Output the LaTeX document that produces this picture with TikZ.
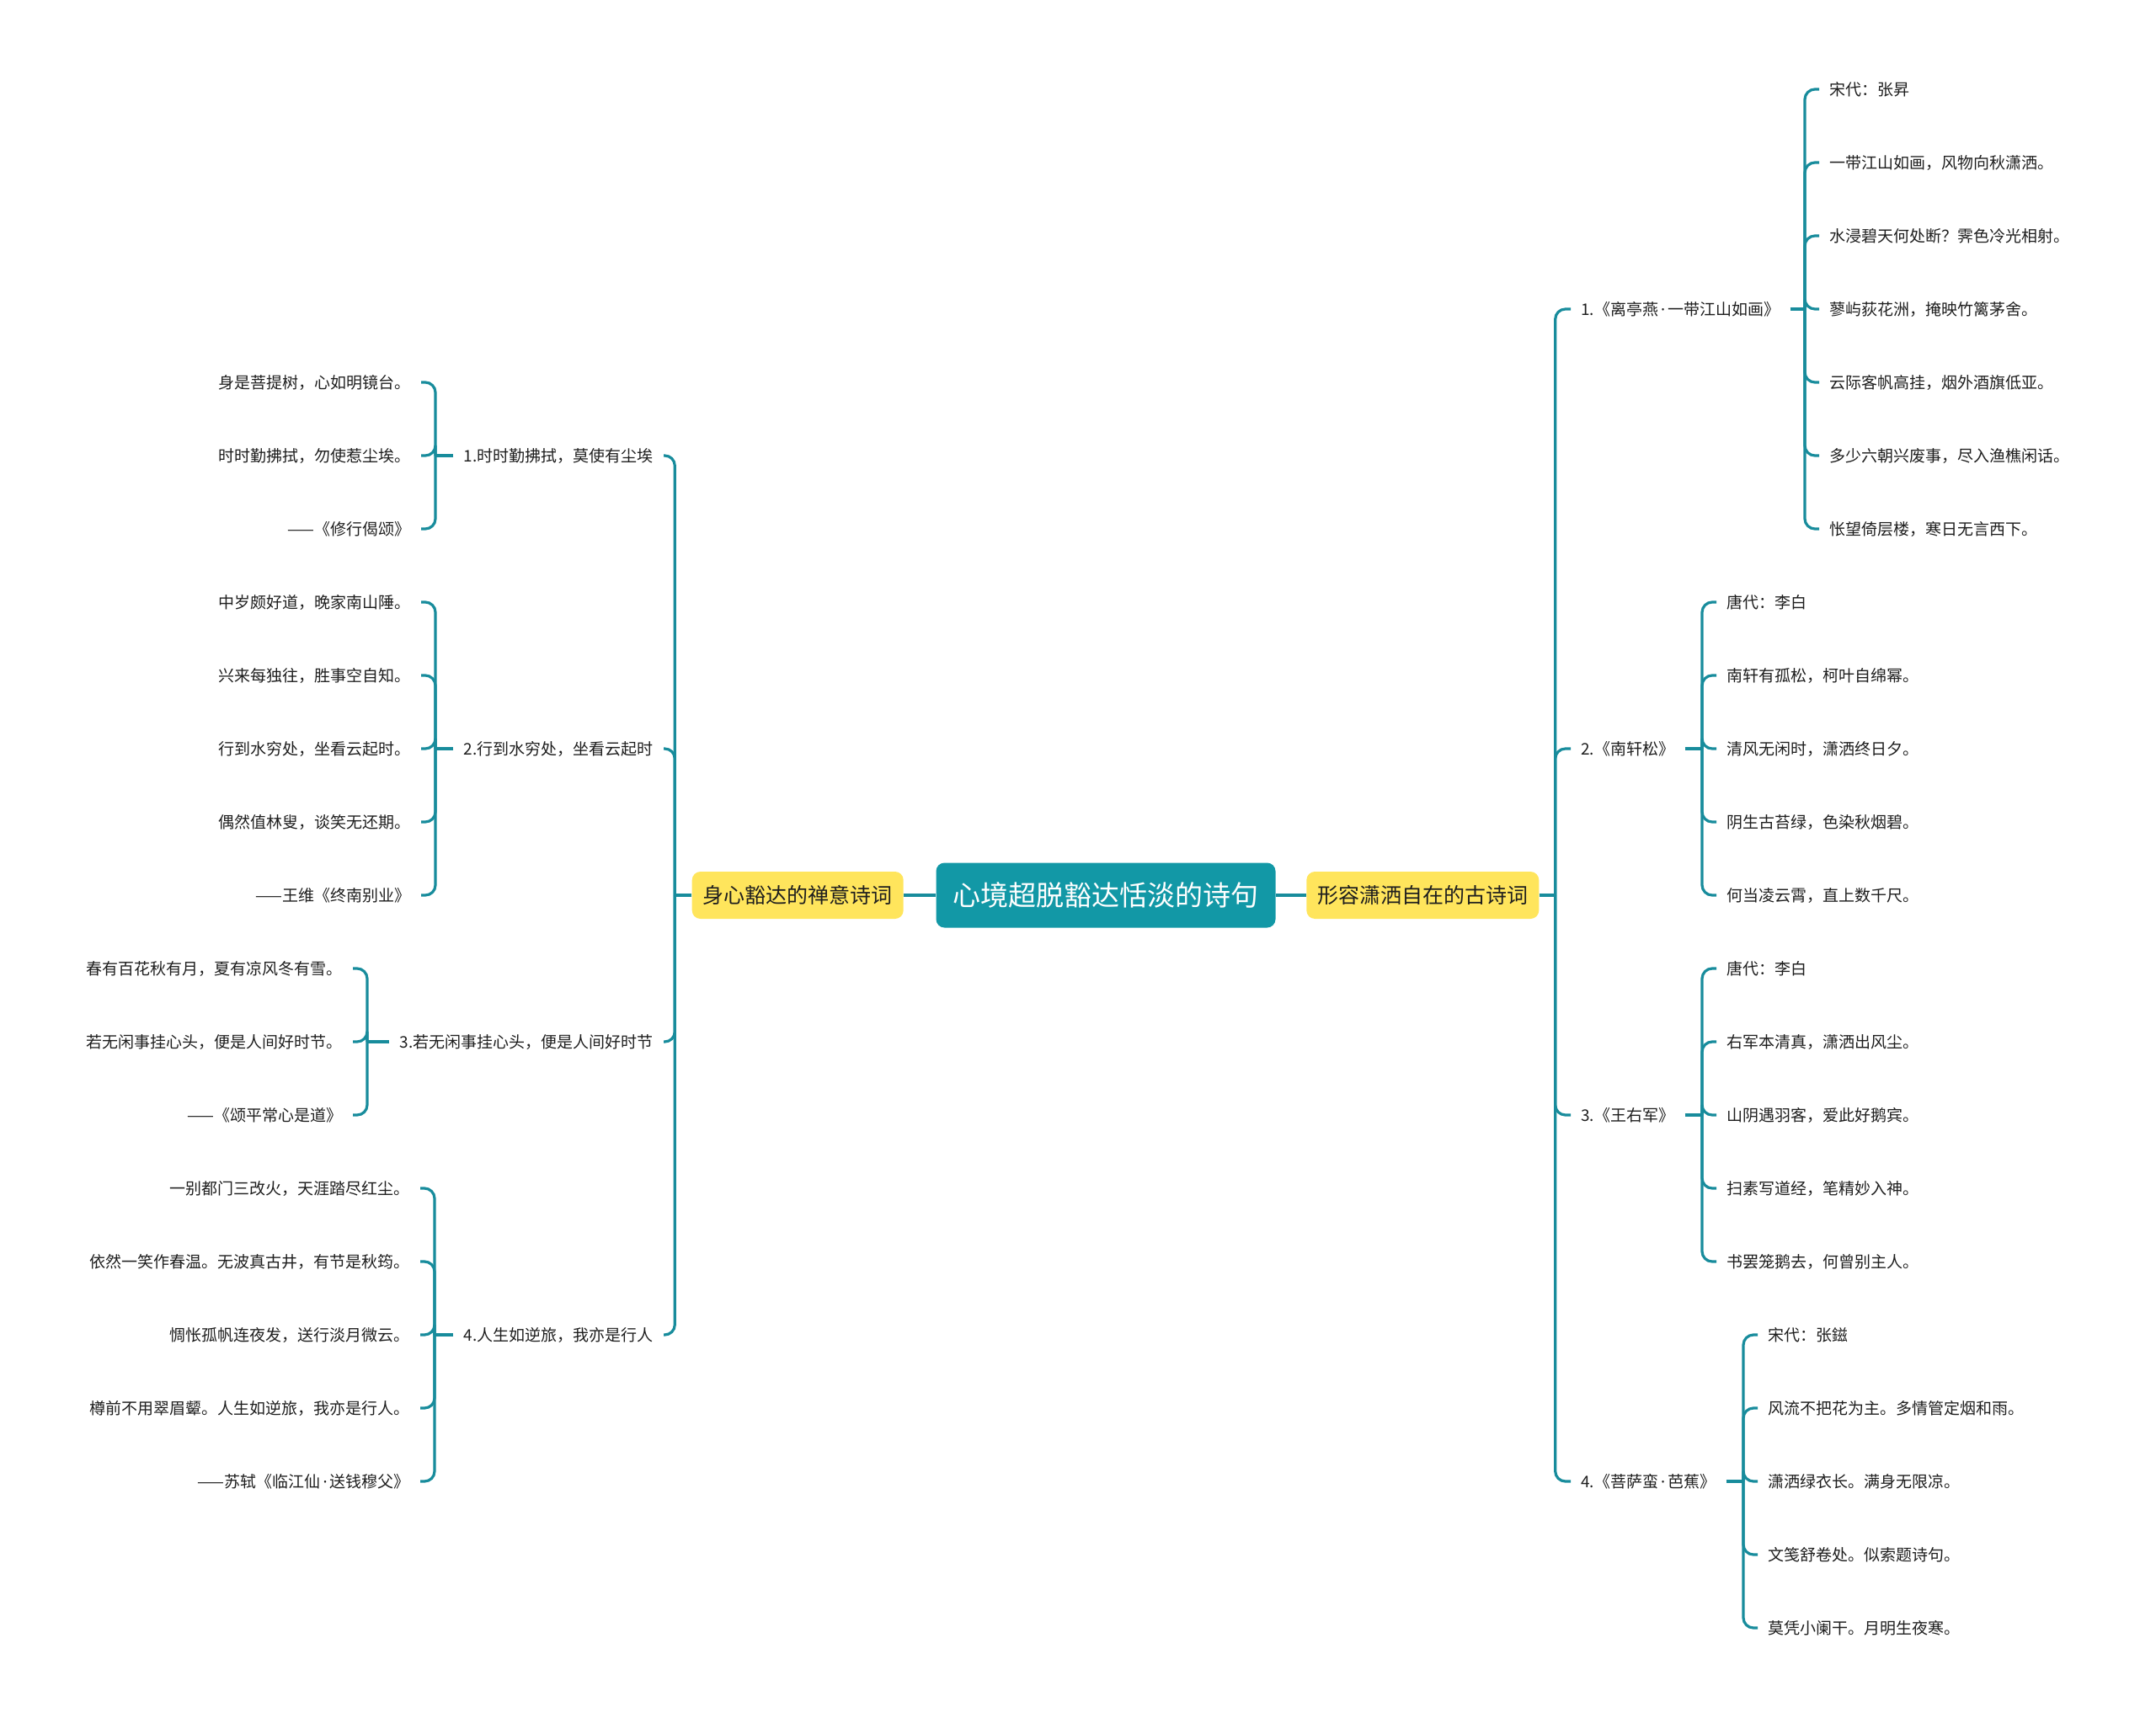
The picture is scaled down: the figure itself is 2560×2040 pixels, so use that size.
\documentclass[tikz,border=0pt]{standalone}
\usepackage{fontspec}
\setmainfont{Noto Sans CJK SC}
\newfontfamily\latinfont{Noto Sans}
\newcommand\middot{{\latinfont\hspace{1.5pt}·\hspace{1.5pt}}}
\usetikzlibrary{positioning}
\definecolor{lagoon}{RGB}{18,152,166}
\definecolor{wire}{RGB}{24,140,156}
\definecolor{lemon}{RGB}{255,229,92}
\definecolor{ink}{RGB}{30,30,30}
\tikzset{
  rootbox/.style={fill=lagoon,text=white,rounded corners=5pt,
    font=\fontsize{16.5}{19}\selectfont,minimum height=38.5pt,inner xsep=10pt},
  topic/.style={fill=lemon,text=ink,rounded corners=5pt,
    font=\fontsize{12.5}{15}\selectfont,minimum height=28pt,inner xsep=6.5pt},
  branch/.style={text=ink,font=\fontsize{9.5}{11}\selectfont,inner xsep=6pt,
    inner ysep=0pt,text height=8.4pt,text depth=1.1pt},
  leaf/.style={branch},
  conn/.style={draw=wire,line width=1.6pt,rounded corners=6pt},
}
\begin{document}
\begin{tikzpicture}[x=0.5pt,y=-0.5pt]
\useasboundingbox (0,0) rectangle (2560,2040);

% centre and the two main topics
\node[rootbox] (root) at (1313,1063) {心境超脱豁达恬淡的诗句};
\node[topic,left=19pt of root] (lt) {身心豁达的禅意诗词};
\node[topic,right=18pt of root] (rt) {形容潇洒自在的古诗词};
\draw[conn] (root.west) -- (lt.east);
\draw[conn] (root.east) -- (rt.west);
\coordinate (ltj) at ([xshift=-10pt]lt.west);
\coordinate (rtj) at ([xshift=9.5pt]rt.east);
\draw[conn] (lt.west) -- (ltj);
\draw[conn] (rt.east) -- (rtj);

% right side
\node[branch,anchor=west] (r1) at (1865,367) {1.《离亭燕\middot 一带江山如画》};
\node[branch,anchor=west] (r2) at (1865,889) {2.《南轩松》};
\node[branch,anchor=west] (r3) at (1865,1324) {3.《王右军》};
\node[branch,anchor=west] (r4) at (1865,1759) {4.《菩萨蛮\middot 芭蕉》};
\foreach \n in {r1,r2,r3,r4} \draw[conn] (rtj) |- (\n.west);

\coordinate (raj) at (2143,367);
\coordinate (rbj) at (2021,889);
\coordinate (rcj) at (2021,1324);
\coordinate (rdj) at (2070,1759);
\draw[conn] (r1.east) -- (raj);
\draw[conn] (r2.east) -- (rbj);
\draw[conn] (r3.east) -- (rcj);
\draw[conn] (r4.east) -- (rdj);

\foreach \t [count=\i from 0] in {宋代：张昇,一带江山如画，风物向秋潇洒。,
  水浸碧天何处断？霁色冷光相射。,蓼屿荻花洲，掩映竹篱茅舍。,
  云际客帆高挂，烟外酒旗低亚。,多少六朝兴废事，尽入渔樵闲话。,
  怅望倚层楼，寒日无言西下。}{
  \node[leaf,anchor=west] (ra\i) at (2160,{106+87*\i}) {\t};
  \draw[conn] (raj) |- (ra\i.west);
}
\foreach \t [count=\i from 0] in {唐代：李白,南轩有孤松，柯叶自绵幂。,
  清风无闲时，潇洒终日夕。,阴生古苔绿，色染秋烟碧。,何当凌云霄，直上数千尺。}{
  \node[leaf,anchor=west] (rb\i) at (2038,{715+87*\i}) {\t};
  \draw[conn] (rbj) |- (rb\i.west);
}
\foreach \t [count=\i from 0] in {唐代：李白,右军本清真，潇洒出风尘。,
  山阴遇羽客，爱此好鹅宾。,扫素写道经，笔精妙入神。,书罢笼鹅去，何曾别主人。}{
  \node[leaf,anchor=west] (rc\i) at (2038,{1150+87*\i}) {\t};
  \draw[conn] (rcj) |- (rc\i.west);
}
\foreach \t [count=\i from 0] in {宋代：张鎡,风流不把花为主。多情管定烟和雨。,
  潇洒绿衣长。满身无限凉。,文笺舒卷处。似索题诗句。,莫凭小阑干。月明生夜寒。}{
  \node[leaf,anchor=west] (rd\i) at (2087,{1585+87*\i}) {\t};
  \draw[conn] (rdj) |- (rd\i.west);
}

% left side
\node[branch,anchor=east] (l1) at (788,541) {1.时时勤拂拭，莫使有尘埃};
\node[branch,anchor=east] (l2) at (788,889) {2.行到水穷处，坐看云起时};
\node[branch,anchor=east] (l3) at (788,1237) {3.若无闲事挂心头，便是人间好时节};
\node[branch,anchor=east] (l4) at (788,1585) {4.人生如逆旅，我亦是行人};
\foreach \n in {l1,l2,l3,l4} \draw[conn] (ltj) |- (\n.east);

\coordinate (laj) at (517,541);
\coordinate (lbj) at (517,889);
\coordinate (lcj) at (436,1237);
\coordinate (ldj) at (516,1585);
\draw[conn] (l1.west) -- (laj);
\draw[conn] (l2.west) -- (lbj);
\draw[conn] (l3.west) -- (lcj);
\draw[conn] (l4.west) -- (ldj);

\foreach \t [count=\i from 0] in {身是菩提树，心如明镜台。,时时勤拂拭，勿使惹尘埃。,
  ——《修行偈颂》}{
  \node[leaf,anchor=east] (la\i) at (500,{454+87*\i}) {\t};
  \draw[conn] (laj) |- (la\i.east);
}
\foreach \t [count=\i from 0] in {中岁颇好道，晚家南山陲。,兴来每独往，胜事空自知。,
  行到水穷处，坐看云起时。,偶然值林叟，谈笑无还期。,——王维《终南别业》}{
  \node[leaf,anchor=east] (lb\i) at (500,{715+87*\i}) {\t};
  \draw[conn] (lbj) |- (lb\i.east);
}
\foreach \t [count=\i from 0] in {春有百花秋有月，夏有凉风冬有雪。,
  若无闲事挂心头，便是人间好时节。,——《颂平常心是道》}{
  \node[leaf,anchor=east] (lc\i) at (419,{1150+87*\i}) {\t};
  \draw[conn] (lcj) |- (lc\i.east);
}
\foreach \t [count=\i from 0] in {一别都门三改火，天涯踏尽红尘。,
  依然一笑作春温。无波真古井，有节是秋筠。,惆怅孤帆连夜发，送行淡月微云。,
  樽前不用翠眉颦。人生如逆旅，我亦是行人。,——苏轼《临江仙\middot 送钱穆父》}{
  \node[leaf,anchor=east] (ld\i) at (499,{1411+87*\i}) {\t};
  \draw[conn] (ldj) |- (ld\i.east);
}
\end{tikzpicture}
\end{document}
